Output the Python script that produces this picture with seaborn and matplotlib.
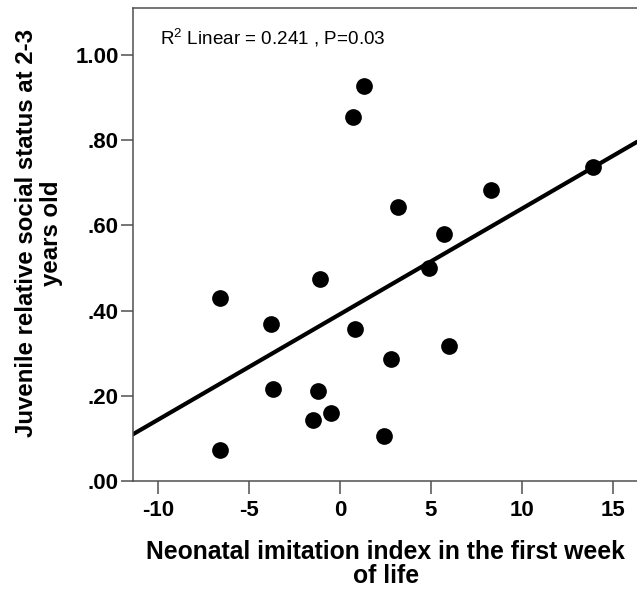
import matplotlib
matplotlib.use("Agg")
import matplotlib.pyplot as plt
import seaborn as sns
import pandas as pd

# values
imitation = [1.3, 0.7, 13.9, 8.3, 3.2, 5.7, 4.9, -1.1, -6.6,
             -3.8, 0.8, 6.0, 2.8, -3.7, -1.2, -0.5, -1.5, 2.4, -6.6]
status = [0.927, 0.855, 0.738, 0.683, 0.642, 0.579, 0.499, 0.473, 0.430,
          0.368, 0.357, 0.317, 0.286, 0.215, 0.211, 0.159, 0.143, 0.106, 0.072]
yticks = [0.0, 0.2, 0.4, 0.6, 0.8, 1.0]
ytick_labels = [".00", ".20", ".40", ".60", ".80", "1.00"]
xticks = [-10, -5, 0, 5, 10, 15]

df = pd.DataFrame({"imitation": imitation, "status": status})

sns.set_style("white")
plt.rcParams["font.family"] = ["Liberation Sans", "DejaVu Sans"]
plt.rcParams["mathtext.fontset"] = "custom"
plt.rcParams["mathtext.rm"] = "Liberation Sans"
plt.rcParams["text.color"] = "black"
plt.rcParams["axes.labelcolor"] = "black"

fig = plt.figure(figsize=(6.37, 5.92), dpi=100)
ax = fig.add_axes([0.2085, 0.1875, 0.7915, 0.799])
ax.set_xlim(-11.41, 16.34)
ax.set_ylim(0, 1.11)

sns.regplot(data=df, x="imitation", y="status", ax=ax, ci=None, truncate=False,
            scatter_kws={"s": 145, "color": "black", "alpha": 1, "linewidths": 0},
            line_kws={"color": "black", "lw": 3})
ax.set_xlim(-11.41, 16.34)
ax.set_ylim(0, 1.11)

ax.set_xticks(xticks)
ax.set_xticklabels([str(t) for t in xticks])
ax.set_yticks(yticks)
ax.set_yticklabels(ytick_labels)
ax.tick_params(axis="both", direction="out", length=9, width=1.1,
               color="#505050", labelcolor="black", labelsize=16,
               bottom=True, left=True)
ax.tick_params(axis="x", pad=5)
ax.tick_params(axis="y", pad=1)
for lab in ax.get_xticklabels() + ax.get_yticklabels():
    lab.set_fontweight("bold")

for side in ["left", "bottom", "top"]:
    ax.spines[side].set_color("#505050")
    ax.spines[side].set_linewidth(1.1)
ax.spines["right"].set_visible(False)

ax.set_xlabel("Neonatal imitation index in the first week\nof life",
              fontsize=17.8, fontweight="bold", linespacing=0.98)
ax.set_ylabel("Juvenile relative social status at 2-3\nyears old",
              fontsize=17.3, fontweight="bold", linespacing=1.1)
ax.xaxis.set_label_coords(0.502, -0.125)
ax.yaxis.set_label_coords(-0.139, 0.524)

ax.text(0.054, 0.922, r"R$^2$ Linear = 0.241 , P=0.03", transform=ax.transAxes,
        fontsize=13.6, va="baseline", ha="left")

fig.savefig("out.png", dpi=100)
